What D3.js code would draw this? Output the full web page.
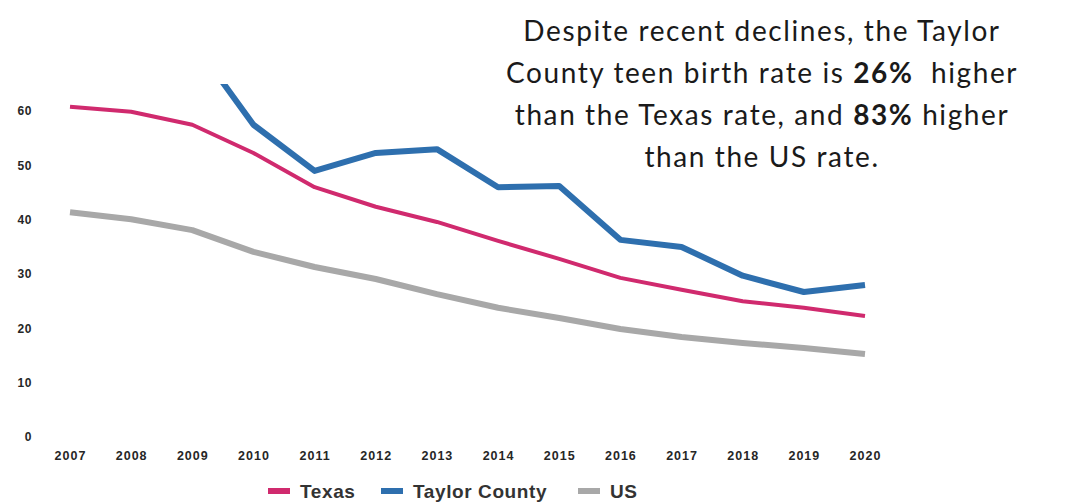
<!DOCTYPE html>
<html>
<head>
<meta charset="utf-8">
<script src="https://cdn.jsdelivr.net/npm/d3@7"></script>
<style>
  body { margin: 0; background: #fff; }
  svg { display: block; }
</style>
</head>
<body>
<div id="viz"></div>
<script>
var years = ['2007','2008','2009','2010','2011','2012','2013','2014','2015','2016','2017','2018','2019','2020'];
var texas = [60.8, 59.9, 57.5, 52.3, 46.0, 42.4, 39.6, 36.1, 32.8, 29.3, 27.1, 25.0, 23.8, 22.3];
// 2007-2008 Taylor values run off the top of the chart, estimated
var taylor = [76, 74.5, 73, 57.5, 49.0, 52.3, 53.0, 46.0, 46.2, 36.3, 35.0, 29.7, 26.7, 28.0];
var us = [41.4, 40.1, 38.1, 34.1, 31.3, 29.1, 26.3, 23.8, 21.9, 19.9, 18.4, 17.3, 16.4, 15.3];
var yTicks = [0, 10, 20, 30, 40, 50, 60];
var seriesNames = ['Texas', 'Taylor County', 'US'];
var seriesColors = ['#d02a6e', '#2e6fae', '#a8a8a8'];
var seriesWidths = [4, 6, 6];

var width = 1065,
    height = 502;

var svg = d3.select('#viz').append('svg')
    .attr('width', width)
    .attr('height', height);

var xScale = d3.scalePoint()
    .domain(years)
    .range([70, 865]);

var yScale = d3.scaleLinear()
    .domain([0, 65])
    .range([437, 84]);

// y axis labels
svg.append('g')
    .attr('transform', 'translate(32,0)')
    .call(d3.axisLeft(yScale).tickValues(yTicks).tickSize(0).tickPadding(0))
    .call(function(g){ g.select('.domain').remove(); })
    .selectAll('text')
    .style('font-family', 'Liberation Sans, Arial, sans-serif')
    .style('font-weight', 'bold')
    .style('font-size', '12px')
    .style('letter-spacing', '0.6px')
    .style('fill', '#262626');

// x axis labels
svg.append('g')
    .attr('transform', 'translate(0,451)')
    .call(d3.axisBottom(xScale).tickSize(0).tickPadding(0))
    .call(function(g){ g.select('.domain').remove(); })
    .selectAll('text')
    .style('font-family', 'Liberation Sans, Arial, sans-serif')
    .style('font-weight', 'bold')
    .style('font-size', '12.5px')
    .style('letter-spacing', '1px')
    .style('fill', '#262626');

svg.append('clipPath')
    .attr('id', 'plot-clip')
    .append('rect')
    .attr('x', 0)
    .attr('y', yScale(65))
    .attr('width', width)
    .attr('height', yScale(0) - yScale(65) + 10);

var line = d3.line()
    .x(function(d, i){ return xScale(years[i]); })
    .y(function(d){ return yScale(d); });

var allSeries = [texas, taylor, us];
// draw US first, then Texas, then Taylor on top
[2, 0, 1].forEach(function(k){
    svg.append('path')
        .attr('clip-path', 'url(#plot-clip)')
        .attr('d', line(allSeries[k]))
        .attr('fill', 'none')
        .attr('stroke', seriesColors[k])
        .attr('stroke-width', seriesWidths[k])
        .attr('stroke-linejoin', 'round');
});

// legend
var legendX = [268, 381, 578];
var legend = svg.append('g')
    .attr('transform', 'translate(0,491)');
seriesNames.forEach(function(name, i){
    legend.append('rect')
        .attr('x', legendX[i])
        .attr('y', -3)
        .attr('width', 22)
        .attr('height', 6)
        .attr('fill', seriesColors[i]);
    legend.append('text')
        .attr('x', legendX[i] + 32)
        .attr('y', 7)
        .text(name)
        .style('font-family', 'Liberation Sans, Arial, sans-serif')
        .style('font-weight', 'bold')
        .style('font-size', '19px')
        .style('letter-spacing', '0.6px')
        .style('fill', '#333');
});

// annotation
var note = svg.append('text')
    .attr('text-anchor', 'middle')
    .style('font-family', 'Lato, sans-serif')
    .style('font-size', '28px')
    .style('letter-spacing', '1.6px')
    .style('fill', '#1a1a1a');

var noteLines = [
    [{t: 'Despite recent declines, the Taylor'}],
    [{t: 'County teen birth rate is '}, {t: '26%', b: true}, {t: '\u00a0 higher'}],
    [{t: 'than the Texas rate, and '}, {t: '83%', b: true}, {t: ' higher'}],
    [{t: 'than the US rate.'}]
];
var baselines = [41, 83, 125, 167];
noteLines.forEach(function(parts, li){
    var tl = note.append('tspan')
        .attr('x', 762)
        .attr('y', baselines[li]);
    parts.forEach(function(p){
        tl.append('tspan')
            .style('font-weight', p.b ? 'bold' : 'normal')
            .text(p.t);
    });
});
</script>
</body>
</html>
